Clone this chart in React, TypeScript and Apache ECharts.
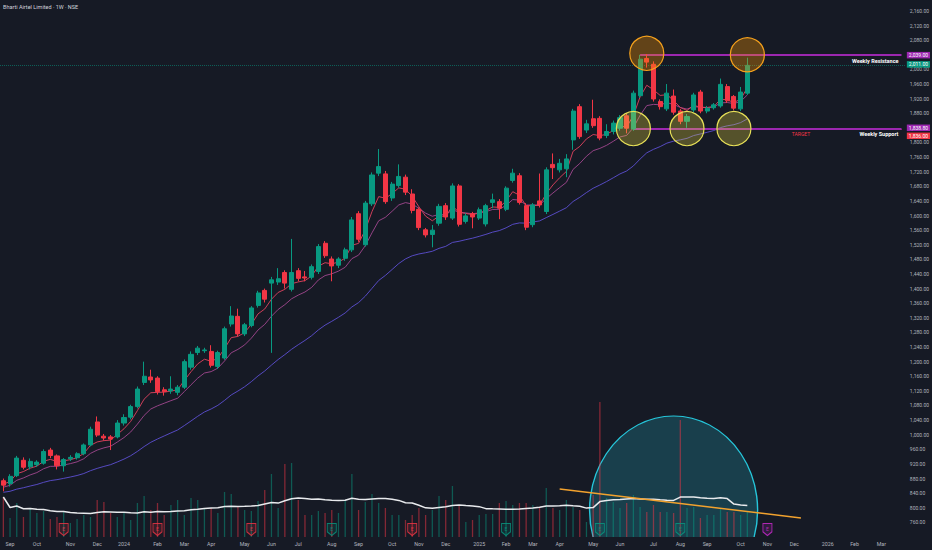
import React, { useEffect, useRef } from 'react';
import * as echarts from 'echarts';

// ---------- data (weekly bars from the week of 28 Aug 2023) ----------
const TOTAL_WEEKS = 135;

const OPEN = [
  874, 866, 888, 930, 912, 918, 922, 958, 942, 915,
  934, 937, 948, 972, 1035, 996, 994, 994, 1032, 1048,
  1077, 1143, 1158, 1155, 1123, 1120, 1116, 1130, 1185, 1225,
  1230, 1228, 1187, 1210, 1303, 1324, 1276, 1299, 1354, 1395,
  1415, 1418, 1444, 1398, 1449, 1432, 1431, 1447, 1524, 1481,
  1464, 1483, 1506, 1605, 1520, 1632, 1716, 1714, 1648, 1682,
  1705, 1659, 1617, 1561, 1548, 1579, 1627, 1593, 1681, 1584,
  1605, 1593, 1577, 1636, 1638, 1617, 1696, 1709, 1627, 1575,
  1640, 1611, 1740, 1725, 1728, 1807, 1898, 1834, 1865, 1866,
  1819, 1830, 1839, 1873, 1837, 1928, 2030, 2014, 1912, 1892,
  1927, 1886, 1858, 1889, 1938, 1886, 1895, 1900, 1953, 1926,
  1892, 1935,
];
const CLOSE = [
  862, 886, 936, 911, 927, 925, 954, 943, 915, 932,
  938, 948, 972, 1015, 999, 991, 988, 1032, 1047, 1077,
  1125, 1160, 1150, 1118, 1118, 1125, 1130, 1200, 1220, 1237,
  1232, 1190, 1225, 1290, 1325, 1276, 1301, 1347, 1388, 1371,
  1424, 1427, 1415, 1444, 1428, 1429, 1460, 1515, 1490, 1462,
  1481, 1506, 1588, 1535, 1634, 1711, 1734, 1638, 1686, 1707,
  1664, 1614, 1567, 1547, 1560, 1625, 1596, 1681, 1576, 1599,
  1596, 1616, 1627, 1643, 1620, 1675, 1716, 1636, 1568, 1629,
  1629, 1725, 1731, 1743, 1755, 1886, 1816, 1851, 1846, 1812,
  1830, 1853, 1868, 1839, 1935, 2028, 2020, 1919, 1898, 1935,
  1883, 1858, 1871, 1930, 1886, 1894, 1903, 1959, 1914, 1894,
  1938, 2011,
];
const LOW = [
  845, 858, 884, 905, 905, 912, 918, 936, 905, 899,
  928, 932, 944, 968, 994, 984, 958, 990, 1025, 1042,
  1072, 1136, 1142, 1110, 1107, 1112, 1108, 1125, 1178, 1218,
  1224, 1184, 1180, 1205, 1296, 1270, 1270, 1294, 1348, 1362,
  1224, 1410, 1400, 1392, 1420, 1420, 1425, 1440, 1484, 1420,
  1456, 1476, 1500, 1528, 1515, 1626, 1708, 1632, 1640, 1676,
  1656, 1606, 1560, 1540, 1513, 1572, 1588, 1588, 1570, 1578,
  1565, 1588, 1570, 1620, 1590, 1612, 1690, 1630, 1560, 1568,
  1622, 1604, 1700, 1718, 1705, 1780, 1810, 1826, 1840, 1806,
  1812, 1822, 1832, 1825, 1832, 1922, 2005, 1912, 1890, 1886,
  1876, 1850, 1840, 1882, 1880, 1880, 1890, 1895, 1908, 1888,
  1886, 1930,
];
const HIGH = [
  880, 892, 942, 938, 935, 930, 960, 964, 946, 936,
  944, 952, 976, 1022, 1050, 1002, 999, 1040, 1056, 1082,
  1132, 1200, 1178, 1160, 1130, 1160, 1136, 1206, 1228, 1243,
  1238, 1245, 1230, 1296, 1352, 1345, 1306, 1352, 1394, 1400,
  1432, 1456, 1450, 1536, 1456, 1448, 1466, 1522, 1530, 1488,
  1486, 1512, 1596, 1612, 1640, 1718, 1782, 1722, 1692, 1740,
  1712, 1672, 1622, 1566, 1574, 1632, 1634, 1688, 1686, 1606,
  1610, 1622, 1632, 1660, 1645, 1680, 1728, 1716, 1634, 1634,
  1715, 1732, 1770, 1755, 1768, 1892, 1905, 1862, 1917, 1872,
  1850, 1860, 1875, 1880, 1942, 2040, 2042, 2022, 1918, 1960,
  1945, 1892, 1878, 1936, 1944, 1900, 1908, 1975, 1960, 1930,
  1952, 2032,
];
// weekly volume, millions of shares
const VOLUME = [
  40, 19, 34, 20, 29, 24, 26, 18, 20, 26,
  14, 18, 22, 20, 37, 35, 24, 20, 24, 17,
  34, 41, 27, 34, 22, 32, 37, 22, 39, 37,
  29, 29, 24, 45, 43, 30, 27, 26, 36, 47,
  63, 29, 73, 74, 37, 22, 22, 26, 24, 27,
  24, 36, 63, 27, 35, 43, 34, 29, 22, 22,
  17, 22, 29, 22, 27, 41, 37, 51, 32, 15,
  17, 22, 23, 23, 34, 36, 32, 34, 34, 32,
  30, 49, 29, 27, 37, 30, 27, 15, 42, 135,
  39, 35, 29, 34, 42, 30, 25, 32, 25, 25,
  24, 117, 29, 30, 19, 22, 22, 29, 25, 25,
  22, 25,
];

const EMA_PERIODS = [5, 10, 30];
const EMA_SEEDS = [866, 855, 841]; // indicator values just before the first bar
const VOL_MA_PERIOD = 20;

const MONTH_TICKS: [number, string][] = [
  [1, 'Sep'], [5, 'Oct'], [10, 'Nov'], [14, 'Dec'], [18, '2024'], [23, 'Feb'], [27, 'Mar'],
  [31, 'Apr'], [36, 'May'], [40, 'Jun'], [44, 'Jul'], [49, 'Aug'], [53, 'Sep'], [58, 'Oct'],
  [62, 'Nov'], [66, 'Dec'], [71, '2025'], [75, 'Feb'], [79, 'Mar'], [83, 'Apr'], [88, 'May'],
  [92, 'Jun'], [97, 'Jul'], [101, 'Aug'], [105, 'Sep'], [110, 'Oct'], [114, 'Nov'], [118, 'Dec'],
  [123, '2026'], [127, 'Feb'], [131, 'Mar'],
];
// axis labels hidden behind the price tags
const COVERED_AXIS_LABELS = [2040, 1840];

const RESISTANCE = 2039;
const SUPPORT = 1838.8;
const TARGET = 1836;
const LAST_PRICE = 2011;
const RESISTANCE_START = 95;
const SUPPORT_START = 94;
const TARGET_START = 104;
const LINE_END = 134;

const TOP_TOUCHES: [number, number][] = [[96, 2044], [111, 2040]];
const BOTTOM_TOUCHES: [number, number][] = [[94, 1838], [102, 1838], [109, 1838]];
const VOLUME_HIGHLIGHT: [number, number] = [100, 60.5];
const VOLUME_TREND: [number, number][] = [[83, 48], [119, 19]];
const EARNINGS_WEEK = [9, 23, 37, 49, 61, 75, 89, 101, 114];
const EARNINGS_RESULT = ['miss', 'miss', 'miss', 'beat', 'miss', 'beat', 'beat', 'beat', 'upcoming'];

// ---------- helpers ----------
const UP = '#089981';
const DOWN = '#f23645';
const PURPLE = '#9c27b0';

const fmtPrice = (v: number) =>
  v.toLocaleString('en-US', { minimumFractionDigits: 2, maximumFractionDigits: 2 });

function ema(values: number[], period: number, seed: number) {
  const k = 2 / (period + 1);
  let prev = seed;
  return values.map((v) => {
    prev = prev + k * (v - prev);
    return +prev.toFixed(2);
  });
}

function sma(values: number[], period: number) {
  return values.map((_, i) => {
    const w = values.slice(Math.max(0, i - period + 1), i + 1);
    return +(w.reduce((a, b) => a + b, 0) / w.length).toFixed(2);
  });
}

const categories = Array.from({ length: TOTAL_WEEKS }, (_, i) =>
  new Date(Date.UTC(2023, 7, 28) + i * 7 * 86400000).toISOString().slice(0, 10)
);
const tickMap = new Map<number, string>(MONTH_TICKS);

const earningsStyle: Record<string, { stroke: string; fill: string }> = {
  miss: { stroke: DOWN, fill: 'rgba(242,54,69,0.18)' },
  beat: { stroke: UP, fill: 'rgba(8,153,129,0.18)' },
  upcoming: { stroke: '#d22ad6', fill: 'rgba(210,42,214,0.18)' },
};

export default function App() {
  const ref = useRef<HTMLDivElement>(null);

  useEffect(() => {
    if (!ref.current) return;
    const chart = echarts.init(ref.current, undefined, { renderer: 'svg' });

    const candles = OPEN.map((o, i) => [o, CLOSE[i], LOW[i], HIGH[i]]);
    const emaColors = ['#e0435f', '#a1478f', '#5c4fd1'];
    const emaSeries = EMA_PERIODS.map((p, k) => ({
      type: 'line',
      name: 'EMA ' + p,
      data: ema(CLOSE, p, EMA_SEEDS[k]),
      symbol: 'none',
      silent: true,
      lineStyle: { color: emaColors[k], width: 1, opacity: 0.9 },
      z: 3,
    })).reverse();

    const tag = (
      value: number,
      bg: string,
      offsetY = 0,
      line: any = { color: 'rgba(0,0,0,0)', width: 0, opacity: 1 }
    ) => ({
      yAxis: value,
      lineStyle: line,
      label: {
        show: true,
        position: 'end',
        distance: 2,
        formatter: fmtPrice(value),
        backgroundColor: bg,
        color: '#ffffff',
        fontSize: 5,
        lineHeight: 5,
        padding: [1, 2, 0.5, 2],
        offset: [0, offsetY],
        opacity: 1,
      },
    });

    const option: any = {
      animation: false,
      backgroundColor: '#161a25',
      textStyle: { fontFamily: 'Roboto, sans-serif' },
      title: {
        text: 'Bharti Airtel Limited · 1W · NSE',
        left: 3,
        top: 4,
        padding: 0,
        textStyle: { color: '#d1d4dc', fontSize: 5.5, fontWeight: 'normal' },
      },
      grid: { left: -1, right: 27, top: 0, bottom: 13 },
      xAxis: {
        type: 'category',
        data: categories,
        boundaryGap: true,
        axisLine: { show: false },
        axisTick: { show: false },
        splitLine: { show: false },
        axisLabel: {
          interval: (i: number) => tickMap.has(i),
          formatter: (_v: string, i: number) => tickMap.get(i) ?? '',
          color: '#b2b5be',
          fontSize: 5.3,
          margin: 4,
        },
      },
      yAxis: [
        {
          type: 'value',
          position: 'right',
          min: 720,
          max: 2190,
          interval: 40,
          axisLine: { show: false },
          axisTick: { show: false },
          splitLine: { show: false },
          axisLabel: {
            color: '#b2b5be',
            fontSize: 5,
            margin: 5,
            showMinLabel: false,
            showMaxLabel: false,
            formatter: (v: number) => (COVERED_AXIS_LABELS.includes(v) ? '' : fmtPrice(v)),
          },
        },
        { type: 'value', min: 0, max: 537, show: false },
      ],
      series: [
        {
          type: 'scatter',
          name: 'volume highlight',
          yAxisIndex: 1,
          silent: true,
          data: [VOLUME_HIGHLIGHT],
          symbol: 'path://M3.5,121 A84,94 0 1,1 164.5,121',
          symbolSize: [168, 121],
          itemStyle: { color: 'rgba(38,198,218,0.22)', borderColor: '#26c6da', borderWidth: 1.2, opacity: 1 },
          z: 1,
        },
        {
          type: 'bar',
          name: 'Volume',
          yAxisIndex: 1,
          barWidth: 1.3,
          silent: true,
          data: VOLUME.map((v, i) => ({
            value: v,
            itemStyle: { color: CLOSE[i] >= OPEN[i] ? 'rgba(8,153,129,0.5)' : 'rgba(242,54,69,0.5)' },
          })),
          z: 2,
        },
        {
          type: 'line',
          name: 'Volume MA',
          yAxisIndex: 1,
          data: sma(VOLUME, VOL_MA_PERIOD),
          symbol: 'none',
          silent: true,
          lineStyle: { color: '#e8eaed', width: 1.5 },
          z: 4,
        },
        {
          type: 'line',
          name: 'volume trend',
          yAxisIndex: 1,
          data: VOLUME_TREND,
          symbol: 'none',
          silent: true,
          lineStyle: { color: '#f2a22e', width: 1.5 },
          z: 5,
        },
        {
          type: 'scatter',
          name: 'Earnings',
          yAxisIndex: 1,
          silent: true,
          symbol: 'path://M0,0 L10,0 L10,9 L5,13 L0,9 Z',
          symbolSize: [9, 12],
          data: EARNINGS_WEEK.map((w, k) => {
            const s = earningsStyle[EARNINGS_RESULT[k]];
            return {
              value: [w, 7.5],
              itemStyle: { color: s.fill, borderColor: s.stroke, borderWidth: 1 },
              label: { show: true, position: 'inside', formatter: 'E', fontSize: 5, color: s.stroke, offset: [0, -1] },
            };
          }),
          z: 6,
        },
        ...emaSeries,
        {
          type: 'candlestick',
          name: 'BHARTIARTL',
          data: candles,
          barWidth: '68%',
          itemStyle: { color: UP, color0: DOWN, borderColor: UP, borderColor0: DOWN, borderWidth: 1 },
          z: 5,
          markLine: {
            symbol: ['none', 'none'],
            silent: true,
            animation: false,
            data: [
              tag(LAST_PRICE, UP, -1, { color: 'rgba(8,153,129,0.55)', type: 'dotted', width: 1, opacity: 1 }),
              [
                {
                  coord: [TARGET_START, TARGET],
                  lineStyle: { color: DOWN, type: 'dashed', width: 1 },
                  label: {
                    show: true,
                    position: 'insideMiddleBottom',
                    formatter: 'TARGET',
                    color: DOWN,
                    fontSize: 5,
                    distance: 2,
                  },
                },
                { coord: [LINE_END, TARGET] },
              ],
              [
                {
                  coord: [RESISTANCE_START, RESISTANCE],
                  lineStyle: { color: PURPLE, width: 2, type: 'solid' },
                  label: {
                    show: true,
                    position: 'insideEndBottom',
                    formatter: 'Weekly Resistance',
                    color: '#ffffff',
                    fontWeight: 'bold',
                    fontSize: 5.5,
                    distance: 3,
                  },
                },
                { coord: [LINE_END, RESISTANCE] },
              ],
              [
                {
                  coord: [SUPPORT_START, SUPPORT],
                  lineStyle: { color: PURPLE, width: 2, type: 'solid' },
                  label: {
                    show: true,
                    position: 'insideEndBottom',
                    formatter: 'Weekly Support',
                    color: '#ffffff',
                    fontWeight: 'bold',
                    fontSize: 5.5,
                    distance: 3,
                  },
                },
                { coord: [LINE_END, SUPPORT] },
              ],
              tag(RESISTANCE, PURPLE),
              tag(SUPPORT, PURPLE, -0.5),
              tag(TARGET, DOWN, 6.5),
            ],
          },
        },
        {
          type: 'scatter',
          name: 'tops',
          silent: true,
          data: TOP_TOUCHES,
          symbol: 'circle',
          symbolSize: 34,
          itemStyle: { color: 'rgba(255,152,0,0.33)', borderColor: '#f5a11c', borderWidth: 1.2, opacity: 1 },
          z: 10,
        },
        {
          type: 'scatter',
          name: 'bottoms',
          silent: true,
          data: BOTTOM_TOUCHES,
          symbol: 'circle',
          symbolSize: 34,
          itemStyle: { color: 'rgba(255,235,59,0.27)', borderColor: '#e6df57', borderWidth: 1.2, opacity: 1 },
          z: 10,
        },
      ],
    };

    chart.setOption(option, true);
    return () => chart.dispose();
  }, []);

  return (
    <div
      ref={ref}
      style={{ position: 'fixed', left: 0, top: 0, width: 932, height: 550, background: '#161a25' }}
    />
  );
}
